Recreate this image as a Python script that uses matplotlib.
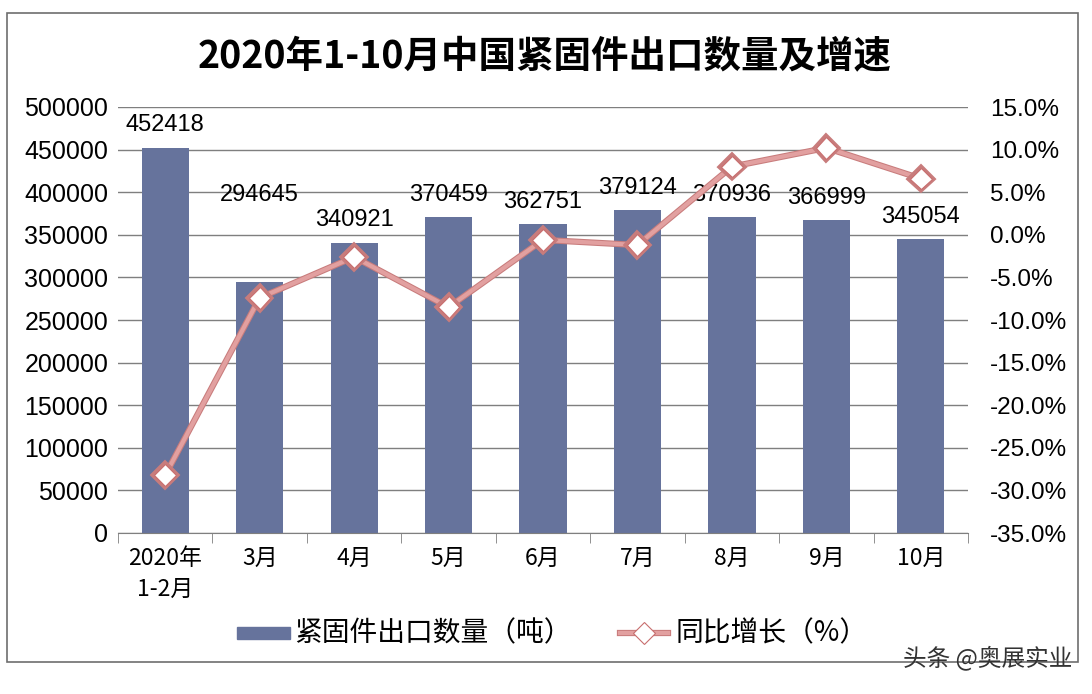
import matplotlib
matplotlib.use("Agg")
from matplotlib import pyplot as plt
from matplotlib import patheffects as pe
from matplotlib.patches import Rectangle
import numpy as np

plt.rcParams['font.family'] = ['Liberation Sans', 'Noto Sans CJK SC', 'DejaVu Sans']

months = ['2020年\n1-2月', '3月', '4月', '5月', '6月', '7月', '8月', '9月', '10月']
volume = [452418, 294645, 340921, 370459, 362751, 379124, 370936, 366999, 345054]
growth = [-28.2, -7.4, -2.6, -8.5, -0.6, -1.2, 8.0, 10.2, 6.6]
# label lift above bar top in points (the 3月 label sits higher in the original)
label_lift = [8, 55, 8, 8, 8, 8, 8, 8, 8]

bar_color = '#66739C'
line_color = '#E2A0A0'
cjk = ['Noto Sans CJK SC', 'DejaVu Sans']

fig = plt.figure(figsize=(10.92, 6.94), dpi=100)
fig.patch.set_facecolor('white')
fig.add_artist(Rectangle((7/1092, 1-662/694), 1071/1092, 649/694, transform=fig.transFigure,
                         fill=False, edgecolor='#6E6E6E', linewidth=1.2))

ax = fig.add_axes([118/1092, 1-533/694, 850/1092, 426/694])
x = np.arange(len(months))
ax.bar(x, volume, width=0.5, color=bar_color, zorder=2)
ax.set_xlim(-0.5, len(months)-0.5)
ax.set_ylim(0, 500000)
ax.set_yticks(np.arange(0, 500001, 50000))
ax.set_yticklabels([str(v) for v in range(0, 500001, 50000)])
ax.yaxis.grid(True, color='#7F7F7F', linewidth=1.0, zorder=0)
ax.set_axisbelow(True)
for s in ['left', 'right', 'top']:
    ax.spines[s].set_visible(False)
ax.spines['bottom'].set_color('#7F7F7F')
ax.tick_params(axis='y', length=0, labelsize=18, pad=7)
ax.set_xticks(x)
ax.set_xticklabels(months, fontsize=16.5, family=cjk, linespacing=1.45)
ax.tick_params(axis='x', length=0, pad=10)
ax.set_xticks(np.arange(-0.5, len(months), 1), minor=True)
ax.tick_params(axis='x', which='minor', length=7, color='#7F7F7F', direction='out')

for xi, v, lift in zip(x, volume, label_lift):
    ax.annotate(str(v), (xi, v), xytext=(0, lift), textcoords='offset points',
                ha='center', va='bottom', fontsize=17, zorder=5)

ax2 = ax.twinx()
ax2.set_ylim(-35, 15)
ax2.set_yticks(np.arange(-35, 15.1, 5))
ax2.set_yticklabels(['%.1f%%' % v for v in np.arange(-35, 15.1, 5)])
ax2.tick_params(axis='y', length=0, labelsize=17.5, pad=16)
for s in ax2.spines.values():
    s.set_visible(False)
ax2.plot(x, growth, color=line_color, linewidth=3, marker='D', markersize=11,
         markerfacecolor='white', markeredgecolor='#C86E6E', markeredgewidth=0.8,
         path_effects=[pe.Stroke(linewidth=4.5, foreground='#C87C7C'), pe.Normal()], zorder=4)

fig.text(545/1092, 1-57/694, '2020年1-10月中国紧固件出口数量及增速', ha='center', va='center',
         fontsize=27, fontweight='bold', family=cjk)

# legend
lg_y = 1-633/694
fig.add_artist(Rectangle((237/1092, lg_y-6/694), 53/1092, 12/694, transform=fig.transFigure,
                         color=bar_color))
fig.text(294/1092, lg_y, '紧固件出口数量（吨）', ha='left', va='center', fontsize=20, family=cjk)
fig.add_artist(plt.Line2D([620/1092, 668/1092], [lg_y, lg_y], transform=fig.transFigure,
                          color=line_color, linewidth=3,
                          path_effects=[pe.Stroke(linewidth=4.5, foreground='#C87C7C'), pe.Normal()]))
fig.add_artist(plt.Line2D([644/1092], [lg_y], transform=fig.transFigure, marker='D', markersize=11,
                          markerfacecolor='white', markeredgecolor='#C86E6E', markeredgewidth=0.8))
fig.text(676/1092, lg_y, '同比增长（%）', ha='left', va='center', fontsize=20, family=cjk)

fig.text(1072/1092, 1-658/694, '头条 @奥展实业', ha='right', va='center', fontsize=17,
         color='#333333', family=cjk)

fig.savefig('out.png', dpi=100, facecolor='white')
